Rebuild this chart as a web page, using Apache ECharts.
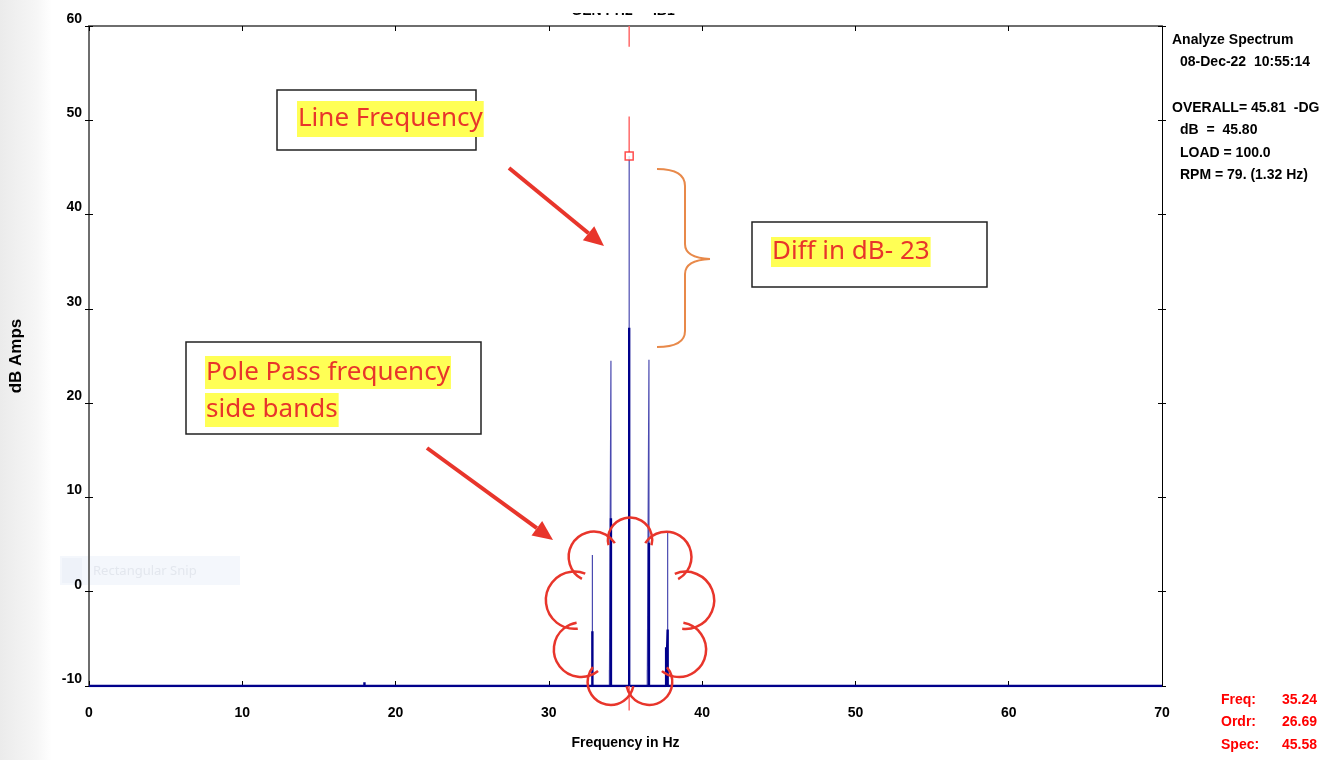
<!doctype html>
<html>
<head>
<meta charset="UTF-8">
<title>Analyze Spectrum</title>
<script src="https://cdn.jsdelivr.net/npm/echarts@6/dist/echarts.min.js"></script>
<style>
  html, body { margin: 0; padding: 0; background: #fff; }
  #main { width: 1336px; height: 760px; }
</style>
</head>
<body>
<div id="main"></div>
<script>
// axis ticks
var freqTicks = [0, 10, 20, 30, 40, 50, 60, 70];
var dbTicks = [-10, 0, 10, 20, 30, 40, 50, 60];
var floorDb = -10;

// thin (light) trace: spike frequencies and peak levels
var thinFreq = [32.84, 33.95, 34.05, 35.24, 36.42, 36.53, 37.75];
var thinDb   = [3.9, -8.3, 24.5, 46.2, -8.3, 24.6, 6.4];

// thick (dark) trace
var thickFreq = [17.97, 32.84, 34.05, 35.24, 36.53, 37.65, 37.75];
var thickDb   = [-9.6, -4.2, 7.8, 28.0, 5.2, -5.9, -4.0];

// cursor
var cursorFreq = 35.24;
var cursorDb = 46.2;
var cursorSegments = [[60, 57.8], [50.4, 46.6], [-10, -12.6]];

function spikes(freqs, levels) {
  var pts = [[freqTicks[0], floorDb]];
  for (var i = 0; i < freqs.length; i++) {
    pts.push([freqs[i], floorDb]);
    pts.push([freqs[i], levels[i]]);
    pts.push([freqs[i], floorDb]);
  }
  pts.push([freqTicks[freqTicks.length - 1], floorDb]);
  return pts;
}

var labelFont = { color: '#000', fontFamily: 'Liberation Sans', fontWeight: 'bold', fontSize: 14 };

var series = [
  {
    name: 'thin', type: 'line', data: spikes(thinFreq, thinDb),
    symbol: 'none', lineStyle: { color: '#4a4ab0', width: 1.2 }, z: 2
  },
  {
    name: 'thick', type: 'line', data: spikes(thickFreq, thickDb),
    symbol: 'none', lineStyle: { color: '#00008b', width: 2.4 }, z: 3
  }
];
cursorSegments.forEach(function (s) {
  series.push({
    type: 'line', data: [[cursorFreq, s[0]], [cursorFreq, s[1]]], clip: false,
    symbol: 'none', lineStyle: { color: '#ff6a6a', width: 1.5 }, z: 4
  });
});
series.push({
  type: 'scatter', data: [[cursorFreq, cursorDb]], symbol: 'rect', symbolSize: 8,
  itemStyle: { color: '#fff', borderColor: '#ff2020', borderWidth: 1.5 }, z: 5
});

function yAx(pos, inside, showLine, lineColor, labels) {
  return {
    type: 'value', position: pos, min: dbTicks[0], max: dbTicks[dbTicks.length - 1], interval: 10,
    axisLine: { show: showLine, onZero: false, lineStyle: { color: lineColor, width: pos === 'left' ? 2 : 1 } },
    axisTick: { show: true, inside: inside, length: 4, lineStyle: { color: '#000' } },
    axisLabel: labels ? Object.assign({ show: true, margin: 7, verticalAlign: 'bottom' }, labelFont) : { show: false },
    splitLine: { show: false }
  };
}

// annotation helpers
var red = '#e8352b';
function arrow(x1, y1, x2, y2) {
  var a = Math.atan2(y2 - y1, x2 - x1), hl = 20, hw = 9;
  var bx = x2 - hl * Math.cos(a), by = y2 - hl * Math.sin(a);
  return [
    { type: 'line', shape: { x1: x1, y1: y1, x2: bx, y2: by }, style: { stroke: red, lineWidth: 4 }, z: 20 },
    { type: 'polygon', shape: { points: [[x2, y2],
        [bx + hw * Math.sin(a), by - hw * Math.cos(a)],
        [bx - hw * Math.sin(a), by + hw * Math.cos(a)]] },
      style: { fill: red }, z: 20 }
  ];
}
function box(x, y, w, h) {
  return { type: 'rect', shape: { x: x, y: y, width: w, height: h },
    style: { fill: '#fff', stroke: '#222', lineWidth: 1.5 }, z: 18 };
}
function note(x, y, txt, lh) {
  return { type: 'text', x: x, y: y, z: 19,
    style: { text: txt, fill: red, fontFamily: 'Noto Sans', fontSize: 26,
      backgroundColor: '#ffff55', lineHeight: lh, padding: [0, 1] } };
}
// cloud outline made of overlapping bumps around an ellipse
function cloud(cx, cy, rx, ry, n) {
  var pts = [], els = [];
  for (var i = 0; i <= n; i++) {
    var t = -Math.PI / 2 + 0.35 + i * 2 * Math.PI / n;
    pts.push([cx + rx * Math.cos(t), cy + ry * Math.sin(t)]);
  }
  for (var j = 1; j < pts.length; j++) {
    var mx = (pts[j][0] + pts[j - 1][0]) / 2, my = (pts[j][1] + pts[j - 1][1]) / 2;
    var r = Math.hypot(pts[j][0] - pts[j - 1][0], pts[j][1] - pts[j - 1][1]) / 2;
    var sa = Math.atan2(pts[j - 1][1] - my, pts[j - 1][0] - mx);
    els.push({ type: 'arc', z: 20,
      shape: { cx: mx, cy: my, r: r * 1.08, startAngle: sa - 0.25, endAngle: sa + Math.PI + 0.25, clockwise: true },
      style: { fill: 'none', stroke: red, lineWidth: 2.5 } });
  }
  return els;
}
function curve(x1, y1, cx, cy, x2, y2) {
  return { type: 'bezierCurve', z: 20, shape: { x1: x1, y1: y1, x2: x2, y2: y2, cpx1: cx, cpy1: cy },
    style: { fill: 'none', stroke: '#e8894a', lineWidth: 2 } };
}
function seg(x1, y1, x2, y2) {
  return { type: 'line', z: 20, shape: { x1: x1, y1: y1, x2: x2, y2: y2 },
    style: { stroke: '#e8894a', lineWidth: 2 } };
}
function infoText(x, y, txt, color, align) {
  return { type: 'text', x: x, y: y, z: 10,
    style: { text: txt, fill: color || '#000', fontFamily: 'Liberation Sans', fontWeight: 'bold',
      fontSize: 14, align: align || 'left', verticalAlign: 'middle' } };
}

var graphics = [
  { type: 'rect', shape: { x: 0, y: 0, width: 52, height: 760 }, z: -10,
    style: { fill: new echarts.graphic.LinearGradient(0, 0, 1, 0, [
      { offset: 0, color: '#ebebeb' }, { offset: 0.7, color: '#f6f6f6' }, { offset: 1, color: '#ffffff' }]) } },
  { type: 'rect', shape: { x: 60, y: 556, width: 180, height: 29 }, style: { fill: '#f4f7fc' }, z: -5 },
  { type: 'rect', shape: { x: 62, y: 558, width: 20, height: 25 }, style: { fill: '#eef2f9' }, z: -4 },
  { type: 'text', x: 93, y: 571, z: -4, style: { text: 'Rectangular Snip', fill: '#e3e7ee',
      fontFamily: 'Noto Sans', fontSize: 13, verticalAlign: 'middle' } },
  // clipped title
  { type: 'text', x: 623, y: 18, z: 1, style: { text: 'GEN PH2  -  IB1', fill: '#000',
      fontFamily: 'Liberation Sans', fontWeight: 'bold', fontSize: 14, align: 'center', verticalAlign: 'bottom' } },
  { type: 'rect', shape: { x: 540, y: 0, width: 180, height: 13 }, style: { fill: '#fff' }, z: 2 },
  // info panel
  infoText(1172, 40, 'Analyze Spectrum'),
  infoText(1180, 62, '08-Dec-22  10:55:14'),
  infoText(1172, 108, 'OVERALL= 45.81  -DG'),
  infoText(1180, 130, 'dB  =  45.80'),
  infoText(1180, 153, 'LOAD = 100.0'),
  infoText(1180, 175, 'RPM = 79. (1.32 Hz)'),
  infoText(1221, 700, 'Freq:', '#ff0000'),
  infoText(1221, 722, 'Ordr:', '#ff0000'),
  infoText(1221, 745, 'Spec:', '#ff0000'),
  infoText(1317, 700, '35.24', '#ff0000', 'right'),
  infoText(1317, 722, '26.69', '#ff0000', 'right'),
  infoText(1317, 745, '45.58', '#ff0000', 'right'),
  // annotations
  box(277, 90, 199, 60),
  note(297, 101, 'Line Frequency', 36),
  box(752, 222, 235, 65),
  note(771, 237, 'Diff in dB- 23', 30),
  box(186, 342, 295, 92),
  note(205, 356, 'Pole Pass frequency', 33),
  note(205, 393, 'side bands', 34),
  // orange brace
  curve(657, 169, 685, 169, 685, 186), seg(685, 186, 685, 244),
  curve(685, 244, 685, 258, 710, 259), curve(710, 259, 685, 260, 685, 274),
  seg(685, 274, 685, 331), curve(685, 331, 685, 347, 657, 347)
].concat(cloud(630, 613, 60, 78, 9), arrow(509, 168, 604, 246), arrow(427, 448, 553, 540));

var chart = echarts.init(document.getElementById('main'));
chart.setOption({
  animation: false,
  backgroundColor: '#fff',
  grid: { left: 89, right: 174, top: 26, bottom: 74 },
  xAxis: [
    {
      type: 'value', position: 'bottom', min: freqTicks[0], max: freqTicks[freqTicks.length - 1], interval: 10,
      name: 'Frequency in Hz', nameLocation: 'middle', nameGap: 50, nameTextStyle: labelFont,
      axisLine: { show: true, onZero: false, lineStyle: { color: '#000' } },
      axisTick: { show: true, inside: true, length: 5, lineStyle: { color: '#000' } },
      axisLabel: Object.assign({ margin: 20 }, labelFont),
      splitLine: { show: false }
    },
    {
      type: 'value', position: 'top', min: freqTicks[0], max: freqTicks[freqTicks.length - 1], interval: 10,
      axisLine: { show: true, onZero: false, lineStyle: { color: '#6e6e6e', width: 2 } },
      axisTick: { show: true, inside: true, length: 5, lineStyle: { color: '#000' } },
      axisLabel: { show: false }, splitLine: { show: false }
    }
  ],
  yAxis: [
    Object.assign(yAx('left', false, true, '#6e6e6e', true), {
      name: 'dB Amps', nameLocation: 'middle', nameGap: 64, nameRotate: 90,
      nameTextStyle: Object.assign({}, labelFont, { fontSize: 17 })
    }),
    yAx('left', true, false, '#6e6e6e', false),
    yAx('right', true, true, '#000', false),
    yAx('right', false, false, '#000', false)
  ],
  series: series,
  graphic: graphics
});
</script>
</body>
</html>
